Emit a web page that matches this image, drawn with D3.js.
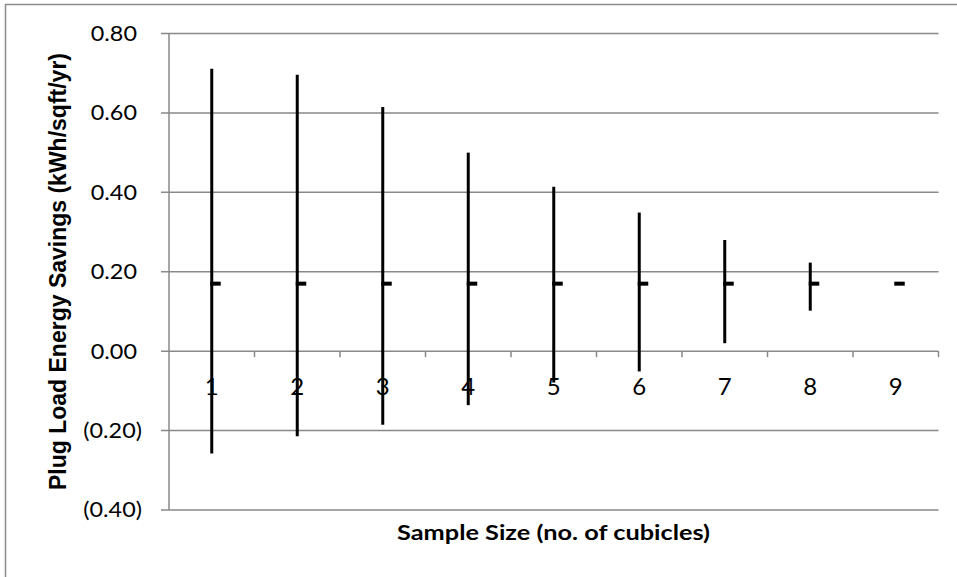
<!DOCTYPE html>
<html>
<head>
<meta charset="utf-8">
<script src="https://cdn.jsdelivr.net/npm/d3@7"></script>
<style>
  html, body { margin: 0; padding: 0; background: #fff; }
  svg { display: block; }
</style>
</head>
<body>
<script>
// ---- data ----
const categories = ["1", "2", "3", "4", "5", "6", "7", "8", "9"];
const meanValues = [0.17, 0.17, 0.17, 0.17, 0.17, 0.17, 0.17, 0.17, 0.17];
const upperValues = [0.711, 0.696, 0.615, 0.50, 0.414, 0.349, 0.280, 0.223, 0.17];
const lowerValues = [-0.258, -0.214, -0.185, -0.136, -0.079, -0.051, 0.020, 0.102, 0.17];
const yTickValues = [-0.4, -0.2, 0, 0.2, 0.4, 0.6, 0.8];
const xTitle = "Sample Size (no. of cubicles)";
const yTitle = "Plug Load Energy Savings (kWh/sqft/yr)";

const W = 957, H = 577;
const plot = { left: 169, right: 938.5, top: 33.5, bottom: 510 };
const gridColor = "#898989";

const svg = d3.select("body").append("svg").attr("width", W).attr("height", H);

// outer frame (cropped at right/bottom)
svg.append("rect").attr("x", 5.5).attr("y", 4.5).attr("width", 1200).attr("height", 1200)
  .attr("fill", "none").attr("stroke", "#8c8c8c").attr("stroke-width", 1.5);

const x = d3.scaleBand().domain(categories).range([plot.left, plot.right]).padding(0);
const y = d3.scaleLinear().domain([-0.4, 0.8]).range([plot.bottom, plot.top]);

// gridlines with left ticks
svg.append("g").selectAll("line").data(yTickValues).join("line")
  .attr("x1", plot.left - 8).attr("x2", plot.right)
  .attr("y1", d => y(d)).attr("y2", d => y(d))
  .attr("stroke", gridColor).attr("stroke-width", 1.5);

// y axis line
svg.append("line").attr("x1", plot.left).attr("x2", plot.left)
  .attr("y1", y(0.8)).attr("y2", y(-0.4))
  .attr("stroke", gridColor).attr("stroke-width", 1.5);

// x axis ticks at category boundaries on the zero line
const bounds = categories.map(c => x(c) + x.bandwidth());
svg.append("g").selectAll("line").data(bounds).join("line")
  .attr("x1", d => d).attr("x2", d => d)
  .attr("y1", y(0)).attr("y2", y(0) + 6)
  .attr("stroke", gridColor).attr("stroke-width", 1.5);

// y tick labels (accounting format)
const fmt = d => {
  const s = Math.abs(d).toFixed(2);
  return d < 0 ? "(" + s + ")" : s;
};
const yl = svg.append("g").selectAll("text").data(yTickValues).join("text")
  .attr("x", d => d < 0 ? 142 : 137)
  .attr("y", d => y(d))
  .attr("dy", "0.36em")
  .attr("text-anchor", "end")
  .attr("font-family", "Lato, 'Open Sans', sans-serif")
  .attr("font-size", 20.5)
  .attr("fill", "#000")
  .text(fmt);
yl.each(function() {
  const L = this.getComputedTextLength();
  d3.select(this).attr("textLength", L * 1.14).attr("lengthAdjust", "spacingAndGlyphs");
});

// x category labels
svg.append("g").selectAll("text").data(categories).join("text")
  .attr("x", d => x(d) + x.bandwidth() / 2)
  .attr("y", 395)
  .attr("text-anchor", "middle")
  .attr("font-family", "Lato, 'Open Sans', sans-serif")
  .attr("font-size", 24)
  .attr("fill", "#000")
  .text(d => d);

// error bars
const rows = categories.map((c, i) => ({ c, mean: meanValues[i], hi: upperValues[i], lo: lowerValues[i] }));
svg.append("g").selectAll("line").data(rows.filter(r => r.hi !== r.lo)).join("line")
  .attr("x1", d => x(d.c) + x.bandwidth() / 2)
  .attr("x2", d => x(d.c) + x.bandwidth() / 2)
  .attr("y1", d => y(d.hi)).attr("y2", d => y(d.lo))
  .attr("stroke", "#000").attr("stroke-width", 3);

// mean markers (dash)
svg.append("g").selectAll("rect").data(rows).join("rect")
  .attr("x", d => x(d.c) + x.bandwidth() / 2 - 1.5)
  .attr("y", d => y(d.mean) - 2)
  .attr("width", 10.5).attr("height", 4)
  .attr("fill", "#000");

// axis titles
svg.append("text")
  .attr("x", 553.5).attr("y", 539.5)
  .attr("text-anchor", "middle")
  .attr("font-family", "Lato, 'Open Sans', sans-serif")
  .attr("font-weight", "bold")
  .attr("font-size", 21)
  .attr("textLength", 313).attr("lengthAdjust", "spacingAndGlyphs")
  .attr("fill", "#000")
  .text(xTitle);

svg.append("text")
  .attr("transform", "translate(65.5,271.5) rotate(-90)")
  .attr("text-anchor", "middle")
  .attr("font-family", "'Liberation Sans', Arial, sans-serif")
  .attr("font-weight", "bold")
  .attr("font-size", 23)
  .attr("textLength", 437).attr("lengthAdjust", "spacingAndGlyphs")
  .attr("fill", "#000")
  .text(yTitle);
</script>
</body>
</html>
